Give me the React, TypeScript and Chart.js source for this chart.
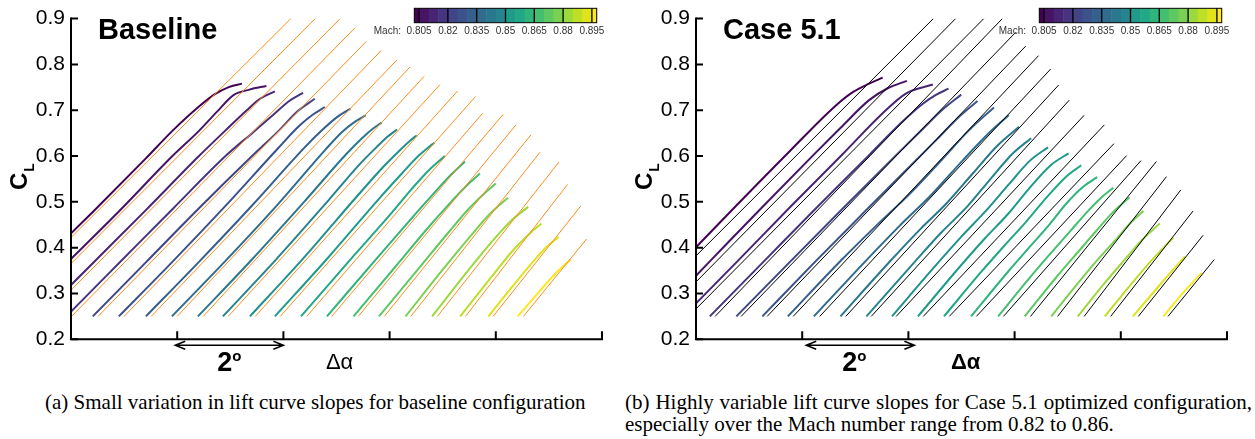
import React, { useEffect, useRef } from "react";
import { Chart, registerables } from "chart.js";

Chart.register(...registerables);

// ---------- axis data ----------
const yTickValues = [0.2, 0.3, 0.4, 0.5, 0.6, 0.7, 0.8, 0.9];
const xTickValues = [2, 4, 6, 8, 10];
const refStartCL = 0.25;

// ---------- colour bar data ----------
const colorbarBounds = [0.8025, 0.805, 0.81, 0.815, 0.82, 0.825, 0.83, 0.835, 0.84, 0.845, 0.85, 0.855, 0.86, 0.865, 0.87, 0.875, 0.88, 0.885, 0.89, 0.895, 0.8975];
const colorbarTickValues = [0.805, 0.82, 0.835, 0.85, 0.865, 0.88, 0.895];
const colorbarTickLabels = ["0.805", "0.82", "0.835", "0.85", "0.865", "0.88", "0.895"];

// viridis palette (one colour per Mach curve, 0.800 ... 0.900)
const viridis = ["#440154", "#471365", "#482475", "#463480", "#414487", "#3b528b", "#355f8d", "#2f6c8e", "#2a788e", "#25848e", "#21918c", "#1e9c89", "#22a884", "#2fb47c", "#44bf70", "#5ec962", "#7ad151", "#9bd93c", "#bddf26", "#dfe318", "#fde725"];

// ---------- Baseline panel ----------
const baseStarts = [-1.59, -1.09, -0.59, -0.09, 0.41, 0.90, 1.41, 1.90, 2.39, 2.86, 3.37, 3.84, 4.33, 4.82, 5.32, 5.80, 6.30, 6.80, 7.33, 7.86, 8.41];
const baseCurves = [
  [[0, .25], [1, .364], [2, .478], [3, .595], [3.5, .655], [4, .708], [4.3, .735], [4.55, .75], [4.81, .758]],
  [[0, .25], [1, .365], [2, .48], [3, .6], [3.5, .655], [3.85, .698], [4.15, .733], [4.45, .745], [4.77, .753]],
  [[0, .25], [1, .366], [2, .482], [3, .6], [3.5, .656], [3.9, .7], [4.15, .725], [4.43, .741]],
  [[0, .25], [1, .367], [2, .484], [3, .6], [3.5, .65], [3.9, .69], [4.2, .72], [4.46, .738]],
  [[0, .25], [1, .368], [2, .486], [3, .6], [3.5, .655], [3.85, .697], [4.18, .725]],
  [[0, .25], [1, .368], [2, .49], [3, .617], [3.4, .666], [3.65, .69], [3.88, .707]],
  [[0, .25], [1, .369], [2, .492], [3, .62], [3.35, .66], [3.6, .685], [3.85, .703]],
  [[0, .25], [1, .37], [2, .495], [2.9, .615], [3.2, .652], [3.45, .675], [3.65, .689]],
  [[0, .25], [1, .372], [2, .5], [2.8, .605], [3.1, .64], [3.3, .66], [3.46, .673]],
  [[0, .25], [1, .374], [2, .505], [2.6, .585], [2.9, .62], [3.1, .642], [3.28, .658]],
  [[0, .25], [1, .376], [2, .51], [2.5, .575], [2.8, .61], [3.0, .632], [3.14, .645]],
  [[0, .25], [1, .378], [2, .512], [2.4, .563], [2.7, .6], [2.85, .615], [3.0, .629]],
  [[0, .25], [1, .383], [1.7, .475], [2.1, .53], [2.4, .568], [2.71, .6]],
  [[0, .25], [1, .385], [1.7, .478], [2.0, .517], [2.3, .555], [2.6, .588]],
  [[0, .25], [0.8, .36], [1.4, .443], [1.8, .495], [2.1, .532], [2.38, .562]],
  [[0, .25], [0.8, .362], [1.3, .432], [1.7, .486], [2.0, .52], [2.2, .54]],
  [[0, .25], [0.7, .352], [1.2, .422], [1.6, .475], [1.93, .509]],
  [[0, .25], [0.7, .353], [1.2, .423], [1.5, .46], [1.81, .489]],
  [[0, .25], [0.6, .338], [1.0, .395], [1.3, .43], [1.53, .453]],
  [[0, .25], [0.5, .322], [0.9, .377], [1.1, .402], [1.32, .423]],
  [[0, .25], [0.4, .303], [0.7, .342], [1.0, .374]],
];
const baseRefStart = [-1.49, -0.99, -0.49, 0.01, 0.51, 1.00, 1.51, 2.00, 2.49, 2.96, 3.47, 3.94, 4.44, 4.91, 5.41, 5.90, 6.40, 6.90, 7.43, 7.95, 8.52];
const baseRefEndAlpha = [4.14, 4.60, 5.07, 5.35, 5.56, 5.84, 6.14, 6.38, 6.65, 6.95, 7.28, 7.62, 7.75, 8.14, 8.38, 8.66, 8.83, 9.19, 9.35, 9.60, 9.71];
const baseRefEndCL = [0.9, 0.9, 0.9, 0.88, 0.85, 0.83, 0.81, 0.794, 0.774, 0.756, 0.742, 0.730, 0.693, 0.691, 0.668, 0.646, 0.608, 0.587, 0.538, 0.491, 0.419];

// ---------- Case 5.1 panel ----------
const caseStarts = [-1.24, -0.74, -0.24, 0.26, 0.76, 1.25, 1.73, 2.22, 2.72, 3.21, 3.69, 4.18, 4.67, 5.18, 5.69, 6.19, 6.69, 7.19, 7.70, 8.23, 8.80];
const caseCurves = [
  [[0, .25], [1, .372], [2, .492], [3, .61], [3.88, .711], [4.2, .74], [4.5, .758], [4.756, .771]],
  [[0, .25], [1, .37], [2, .49], [3, .608], [3.45, .66], [4.0, .722], [4.35, .748], [4.711, .764]],
  [[0, .25], [1, .368], [2, .487], [3, .604], [3.76, .694], [4.2, .737], [4.701, .756]],
  [[0, .25], [1, .368], [2, .486], [3, .602], [3.6, .672], [4.0, .713], [4.25, .733], [4.496, .747]],
  [[0, .25], [1, .368], [2, .485], [3, .601], [3.5, .658], [3.9, .703], [4.235, .734]],
  [[0, .25], [1, .37], [2, .487], [2.8, .58], [3.3, .638], [3.7, .685], [4.051, .72]],
  [[0, .25], [1, .372], [1.7, .452], [2.3, .518], [2.9, .592], [3.4, .655], [3.88, .706]],
  [[0, .25], [1, .374], [1.6, .446], [2.2, .514], [2.8, .59], [3.25, .645], [3.669, .689]],
  [[0, .25], [0.9, .366], [1.5, .44], [2.0, .497], [2.5, .563], [2.95, .622], [3.363, .664]],
  [[0, .25], [0.9, .368], [1.4, .432], [1.9, .49], [2.35, .552], [2.75, .605], [3.102, .639]],
  [[0, .25], [0.8, .358], [1.3, .423], [1.75, .478], [2.2, .538], [2.6, .59], [2.938, .619]],
  [[0, .25], [0.8, .36], [1.25, .419], [1.7, .474], [2.1, .53], [2.5, .58], [2.837, .606]],
  [[0, .25], [0.7, .347], [1.15, .406], [1.55, .457], [1.95, .512], [2.3, .555], [2.586, .58]],
  [[0, .25], [0.7, .348], [1.1, .401], [1.45, .447], [1.8, .497], [2.1, .532], [2.375, .554]],
  [[0, .25], [0.6, .335], [1.0, .389], [1.35, .435], [1.7, .481], [1.95, .51], [2.17, .531]],
  [[0, .25], [0.6, .336], [1.0, .39], [1.35, .437], [1.65, .476], [1.976, .51]],
  [[0, .25], [0.5, .322], [0.9, .377], [1.25, .422], [1.5, .455], [1.738, .48]],
  [[0, .25], [0.5, .322], [0.9, .376], [1.2, .416], [1.546, .453]],
  [[0, .25], [0.5, .321], [0.9, .375], [1.292, .422]],
  [[0, .25], [0.5, .318], [0.978, .381]],
  [[0, .25], [0.4, .305], [0.722, .345]],
];
const caseRefStart = [-1.14, -0.64, -0.14, 0.36, 0.85, 1.34, 1.83, 2.33, 2.82, 3.30, 3.77, 4.28, 4.77, 5.28, 5.79, 6.30, 6.81, 7.31, 7.81, 8.33, 8.89];
const caseRefEndAlpha = [4.47, 4.89, 5.42, 5.77, 6.02, 6.21, 6.45, 6.68, 6.83, 7.03, 7.31, 7.69, 7.87, 8.11, 8.38, 8.67, 8.86, 9.13, 9.36, 9.55, 9.76];
const caseRefEndCL = [0.9, 0.9, 0.9, 0.9, 0.87, 0.84, 0.819, 0.79, 0.755, 0.722, 0.689, 0.668, 0.627, 0.601, 0.59, 0.588, 0.555, 0.526, 0.48, 0.427, 0.374];

// ---------- captions ----------
const captionA = "(a) Small variation in lift curve slopes for baseline configuration";
const captionB = "(b) Highly variable lift curve slopes for Case 5.1 optimized configuration, especially over the Mach number range from 0.82 to 0.86.";

const SANS = "'Liberation Sans', Arial, Helvetica, sans-serif";

const decorPlugin = {
  id: "decor",
  afterDraw(chart: any, _args: any, opts: any) {
    const { ctx, chartArea: a, scales } = chart;
    const x = scales.x, y = scales.y;
    ctx.save();
    // axes
    ctx.strokeStyle = "#000";
    ctx.lineWidth = 2;
    ctx.lineCap = "square";
    ctx.beginPath();
    ctx.moveTo(a.left, a.top);
    ctx.lineTo(a.left, a.bottom);
    ctx.lineTo(a.right, a.bottom);
    ctx.stroke();
    ctx.lineCap = "butt";
    ctx.beginPath();
    yTickValues.forEach((v) => {
      const py = y.getPixelForValue(v);
      ctx.moveTo(a.left, py);
      ctx.lineTo(a.left + 7, py);
    });
    xTickValues.forEach((v) => {
      const px = x.getPixelForValue(v);
      ctx.moveTo(px, a.bottom);
      ctx.lineTo(px, a.bottom - 8);
    });
    ctx.stroke();

    // 2 degree arrow
    const x1 = x.getPixelForValue(2) + opts.arrowShift - 2;
    const x2 = x.getPixelForValue(4) + opts.arrowShift;
    const ay = a.bottom + 6;
    ctx.lineWidth = 1.5;
    ctx.beginPath();
    ctx.moveTo(x1, ay);
    ctx.lineTo(x2, ay);
    ctx.moveTo(x1 + 10, ay - 4);
    ctx.lineTo(x1, ay);
    ctx.lineTo(x1 + 10, ay + 4);
    ctx.moveTo(x2 - 10, ay - 4);
    ctx.lineTo(x2, ay);
    ctx.lineTo(x2 - 10, ay + 4);
    ctx.stroke();
    ctx.fillStyle = "#000";
    ctx.textBaseline = "alphabetic";
    ctx.textAlign = "left";
    ctx.font = `bold 27px ${SANS}`;
    const cx = (x1 + x2) / 2 + opts.labelShift;
    ctx.fillText("2", cx - 12, a.bottom + 32);
    ctx.font = `bold 15px ${SANS}`;
    ctx.fillText("o", cx + 3, a.bottom + 22);

    // delta alpha
    ctx.font = `${opts.deltaBold ? "bold " : ""}22px ${SANS}`;
    ctx.fillText("\u0394\u03b1", x.getPixelForValue(4.8), a.bottom + 30);

    // panel title
    ctx.font = `bold 29px ${SANS}`;
    ctx.fillText(opts.title, 98, 39);

    // y title C_L
    ctx.save();
    ctx.translate(27, 190);
    ctx.rotate(-Math.PI / 2);
    ctx.font = `bold 24px ${SANS}`;
    ctx.fillText("C", 0, 0);
    const cw = ctx.measureText("C").width;
    ctx.font = `bold 14px ${SANS}`;
    ctx.fillText("L", cw + 1, 7);
    ctx.restore();

    // colour bar
    const bl = 414.3, br = 596.7, bt = 8.3, bb = 22.7;
    const mx = (m: number) => bl + ((m - colorbarBounds[0]) / (colorbarBounds[colorbarBounds.length - 1] - colorbarBounds[0])) * (br - bl);
    const nb = colorbarBounds.length - 1;
    for (let k = 0; k < nb; k++) {
      ctx.fillStyle = viridis[Math.round((k * 20) / (nb - 1))];
      const l = mx(colorbarBounds[k]);
      const r = mx(colorbarBounds[k + 1]);
      ctx.fillRect(l, bt, r - l + 0.5, bb - bt);
    }
    ctx.strokeStyle = "#000";
    ctx.lineWidth = 1;
    ctx.strokeRect(bl, bt, br - bl, bb - bt);
    ctx.lineWidth = 1.3;
    ctx.beginPath();
    colorbarTickValues.forEach((m) => {
      const px = mx(m);
      ctx.moveTo(px, bt);
      ctx.lineTo(px, bb);
    });
    ctx.stroke();
    ctx.fillStyle = "#333";
    ctx.font = `10px ${SANS}`;
    ctx.textAlign = "center";
    colorbarTickLabels.forEach((t, i) => ctx.fillText(t, mx(colorbarTickValues[i]), 34));
    ctx.textAlign = "right";
    ctx.fillText("Mach:", 401, 34);
    ctx.restore();
  },
};

function Panel(props: any) {
  const ref = useRef<HTMLCanvasElement>(null);
  useEffect(() => {
    const p = props;
    const datasets: any[] = [];
    p.refStart.forEach((s: number, i: number) => {
      datasets.push({
        data: [{ x: s, y: refStartCL }, { x: p.refEndAlpha[i], y: p.refEndCL[i] }],
        showLine: true,
        borderColor: p.refColor,
        borderWidth: 1,
        pointRadius: 0,
        order: 0,
      });
    });
    p.curves.forEach((pts: number[][], i: number) => {
      datasets.push({
        data: pts.map(([r, c]) => ({ x: p.starts[i] + r, y: c })),
        showLine: true,
        borderColor: viridis[i],
        borderWidth: 2,
        pointRadius: 0,
        cubicInterpolationMode: "monotone",
        borderJoinStyle: "round",
        order: 1,
      });
    });
    const chart = new Chart(ref.current as HTMLCanvasElement, {
      type: "scatter",
      data: { datasets },
      options: {
        animation: false,
        responsive: false,
        maintainAspectRatio: false,
        devicePixelRatio: 1,
        events: [],
        layout: { padding: { left: 0, right: 23, top: 16, bottom: 35.7 } },
        plugins: {
          legend: { display: false },
          tooltip: { enabled: false },
          decor: { title: p.title, deltaBold: p.deltaBold, arrowShift: p.arrowShift, labelShift: p.labelShift },
        } as any,
        scales: {
          x: {
            type: "linear",
            min: 0,
            max: 10,
            grid: { display: false, drawTicks: false },
            border: { display: false },
            ticks: { display: false },
            afterFit: (s: any) => { s.height = 10; },
          },
          y: {
            type: "linear",
            min: 0.2,
            max: 0.9,
            grid: { display: false, drawTicks: false },
            border: { display: false },
            ticks: {
              stepSize: 0.1,
              padding: 6,
              color: "#000",
              font: { family: SANS, size: 21 },
              callback: (v: any) => Number(v).toFixed(1),
            },
            afterFit: (s: any) => { s.width = 71; },
          },
        },
      } as any,
      plugins: [decorPlugin],
    });
    return () => chart.destroy();
  }, []);
  return (
    <canvas
      ref={ref}
      width={625}
      height={385}
      style={{ position: "absolute", left: props.left, top: 0, width: 625, height: 385 }}
    />
  );
}

export default function App() {
  const capStyle: any = {
    position: "absolute",
    fontFamily: "'Liberation Serif', 'Times New Roman', serif",
    fontSize: 21,
    lineHeight: "22px",
    color: "#000",
  };
  return (
    <div style={{ position: "absolute", left: 0, top: 0, width: 1255, height: 439, background: "#fff", overflow: "hidden" }}>
      <Panel
        left={0}
        title="Baseline"
        starts={baseStarts}
        curves={baseCurves}
        refStart={baseRefStart}
        refEndAlpha={baseRefEndAlpha}
        refEndCL={baseRefEndCL}
        refColor="#ff8c1a"
        deltaBold={false}
        arrowShift={0}
        labelShift={0}
      />
      <Panel
        left={625}
        title="Case 5.1"
        starts={caseStarts}
        curves={caseCurves}
        refStart={caseRefStart}
        refEndAlpha={caseRefEndAlpha}
        refEndCL={caseRefEndCL}
        refColor="#000000"
        deltaBold={true}
        arrowShift={6}
        labelShift={-6}
      />
      <div style={{ ...capStyle, left: 45, top: 391, whiteSpace: "nowrap" }}>{captionA}</div>
      <div style={{ ...capStyle, left: 625, top: 391, width: 627, textAlign: "justify" }}>{captionB}</div>
    </div>
  );
}
